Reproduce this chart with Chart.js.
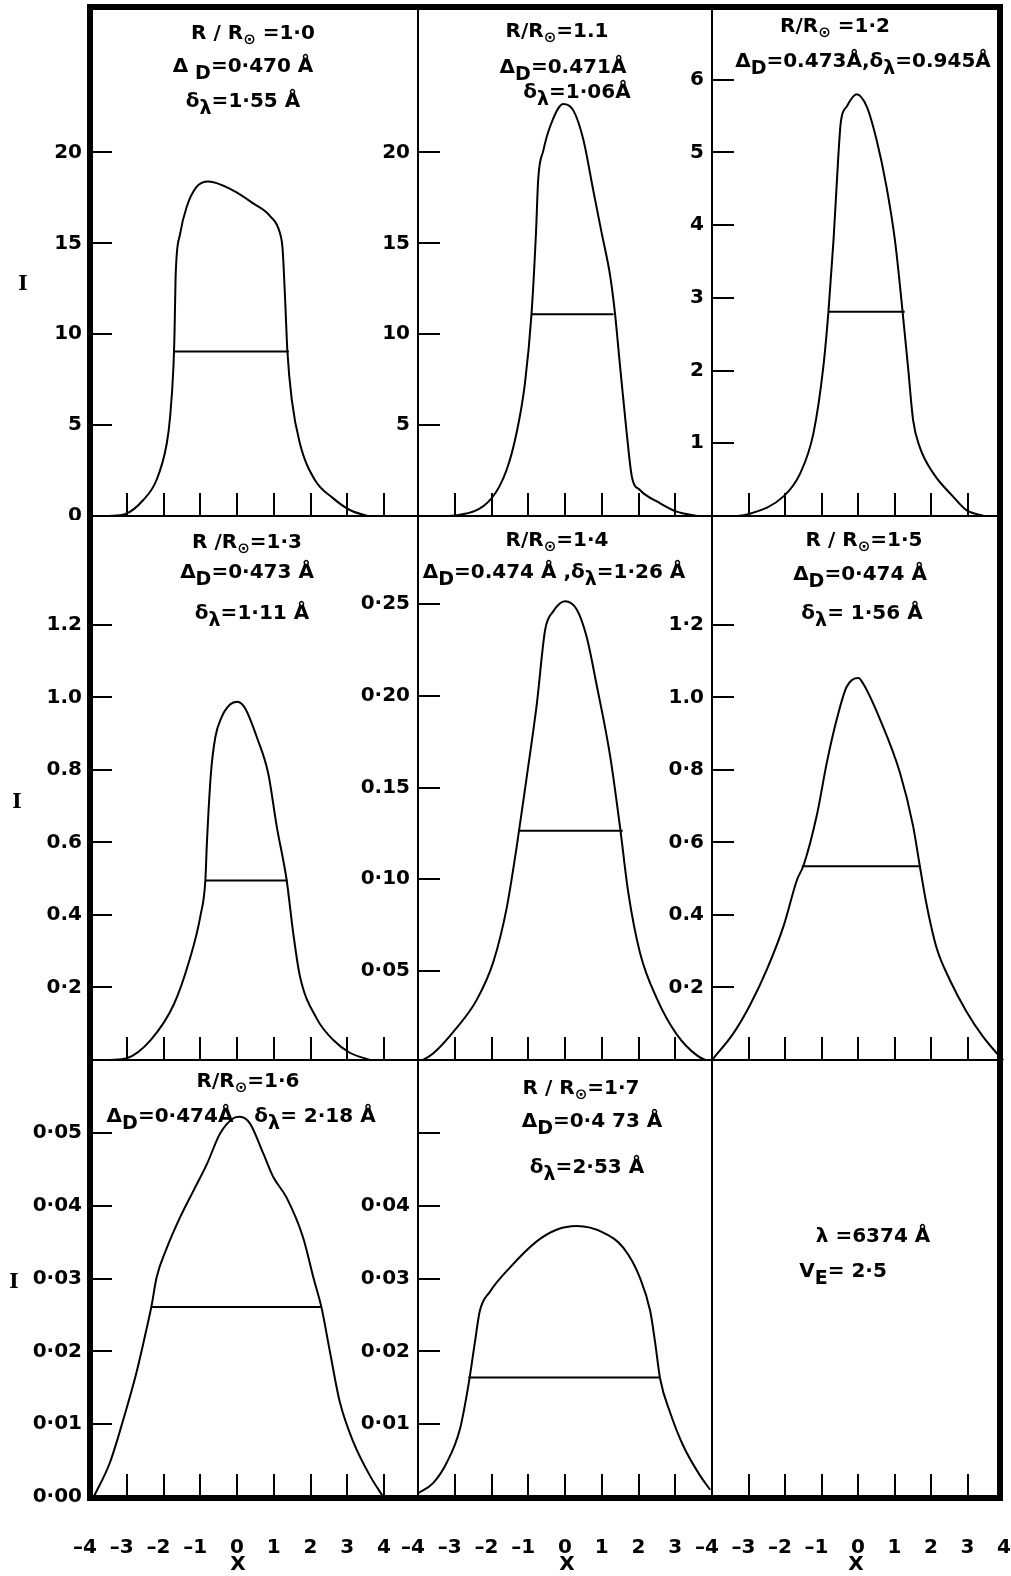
<!DOCTYPE html>
<html><head><meta charset="utf-8">
<script src="https://cdn.jsdelivr.net/npm/chart.js@4.4.1/dist/chart.umd.min.js"></script>
<style>
html,body{margin:0;padding:0;background:#fff;}
#stage{position:relative;width:1011px;height:1576px;overflow:hidden;background:#fff;}
#stage canvas{position:absolute;}
.ln{position:absolute;background:#000;}
.t{position:absolute;font-family:'DejaVu Sans',sans-serif;font-weight:bold;font-size:20px;line-height:22px;white-space:nowrap;color:#000;transform:translate(-50%,-50%);}
.t sub{font-size:19px;vertical-align:-0.38em;line-height:0;}
.t sub.o{font-size:15px;vertical-align:-0.3em;}
.ser{font-family:'DejaVu Serif',serif;}
</style></head>
<body><div id="stage"></div>
<script>
// ===== DATA =====
// R/R0 = 1.0
const X_R10 = [-3.5,-3.05,-2.55,-2.19,-1.91,-1.82,-1.73,-1.70,-1.67,-1.55,-1.37,-1.10,-0.78,-0.10,0.44,0.90,1.17,1.24,1.31,1.37,1.49,1.71,2.12,2.62,3.07,3.55];
const I_R10 = [0,0.1,0.88,1.98,4.0,5.46,8.2,10.06,13.2,15.5,17.0,18.1,18.4,17.9,17.2,16.5,15.55,14.7,11.9,9.1,6.4,4.0,1.98,0.97,0.33,0];
const HALF_X_R10 = [-1.71,1.41]; const HALF_I_R10 = 9.05;
// R/R0 = 1.1
const X_R11 = [-3.3,-2.95,-2.0,-1.59,-1.32,-1.09,-0.91,-0.79,-0.73,-0.59,-0.41,-0.05,0.23,0.5,0.77,1.0,1.23,1.36,1.5,1.68,1.82,2.04,2.59,3.04,3.6];
const I_R11 = [0,0.04,0.97,2.53,4.55,7.3,11.15,15.55,18.5,20.1,21.4,22.66,22.3,20.7,17.9,15.55,13.2,11.15,8.2,4.55,2.16,1.43,0.7,0.24,0];
const HALF_X_R11 = [-0.91,1.32]; const HALF_I_R11 = 11.1;
// R/R0 = 1.2
const X_R12 = [-3.35,-3.04,-2.04,-1.58,-1.22,-0.95,-0.81,-0.67,-0.54,-0.47,-0.31,-0.04,0.24,0.51,0.78,1.01,1.19,1.37,1.51,1.69,2.06,2.6,2.97,3.45];
const I_R12 = [0,0.02,0.27,0.59,1.14,2.05,2.81,3.8,4.94,5.42,5.63,5.8,5.63,5.17,4.53,3.8,2.97,2.05,1.32,0.95,0.59,0.27,0.08,0];
const HALF_X_R12 = [-0.81,1.28]; const HALF_I_R12 = 2.81;
// R/R0 = 1.3
const X_R13 = [-3.46,-3.0,-2.35,-1.72,-1.31,-0.99,-0.86,-0.82,-0.71,-0.59,-0.42,-0.19,0.01,0.22,0.54,0.85,1.08,1.35,1.53,1.71,2.17,2.62,3.07,3.62];
const I_R13 = [0,0.005,0.055,0.153,0.27,0.4,0.497,0.596,0.79,0.89,0.945,0.98,0.988,0.97,0.89,0.79,0.645,0.497,0.35,0.232,0.114,0.055,0.02,0];
const HALF_X_R13 = [-0.87,1.37]; const HALF_I_R13 = 0.495;
// R/R0 = 1.4
const X_R14 = [-4.0,-3.59,-2.95,-2.41,-1.95,-1.59,-1.32,-1.04,-0.77,-0.54,-0.32,0.0,0.32,0.59,0.86,1.23,1.5,1.72,2.04,2.5,3.04,3.59,4.0];
const I_R14 = [0,0.005,0.019,0.034,0.055,0.084,0.117,0.156,0.195,0.236,0.246,0.2515,0.247,0.232,0.206,0.167,0.128,0.093,0.06,0.035,0.0155,0.004,0];
const HALF_X_R14 = [-1.24,1.57]; const HALF_I_R14 = 0.1265;
// R/R0 = 1.5
const X_R15 = [-4.0,-3.41,-2.95,-2.49,-2.04,-1.67,-1.49,-1.13,-0.85,-0.58,-0.31,0.01,0.14,0.6,1.15,1.51,1.69,1.88,2.15,2.51,2.97,3.42,3.79,3.98];
const I_R15 = [0,0.074,0.153,0.251,0.369,0.497,0.537,0.674,0.822,0.94,1.029,1.053,1.038,0.94,0.792,0.645,0.537,0.428,0.31,0.222,0.134,0.065,0.02,0];
const HALF_X_R15 = [-1.54,1.71]; const HALF_I_R15 = 0.534;
// R/R0 = 1.6
const X_R16 = [-3.9,-3.46,-3.09,-2.73,-2.46,-2.32,-2.19,-1.91,-1.55,-1.19,-0.82,-0.46,-0.1,0.08,0.35,0.72,0.99,1.35,1.8,2.08,2.3,2.53,2.8,3.17,3.62,3.98];
const I_R16 = [0,0.0047,0.0107,0.0172,0.0231,0.0264,0.0301,0.0342,0.0384,0.042,0.0457,0.0499,0.052,0.0522,0.0513,0.0471,0.0439,0.0411,0.0356,0.0301,0.026,0.0199,0.013,0.0075,0.0029,0];
const HALF_X_R16 = [-2.32,2.3]; const HALF_I_R16 = 0.0261;
// R/R0 = 1.7
const X_R17 = [-4.0,-3.59,-3.22,-2.86,-2.63,-2.45,-2.32,-2.04,-1.5,-0.77,-0.23,0.32,1.04,1.59,2.04,2.32,2.45,2.59,2.86,3.22,3.68,3.95];
const I_R17 = [0.0005,0.0019,0.0047,0.0093,0.0153,0.0213,0.0255,0.0282,0.0315,0.0351,0.0367,0.0372,0.0363,0.0342,0.0301,0.0255,0.0213,0.0162,0.0116,0.007,0.0029,0.001];
const HALF_X_R17 = [-2.63,2.57]; const HALF_I_R17 = 0.0164;

// tick values and labels
const XTICKS = [-4,-3,-2,-1,0,1,2,3,4];
const XLAB_FULL = ['–4\u2002','–3\u2002','–2\u2002','–1\u2002','0','1','2','3','4'];
const XLAB_MID  = ['–4\u2002','–3\u2002','–2\u2002','–1\u2002','0','1','2','3',''];
const XMARK_C1 = [-3,-2,-1,0,1,2,3,4];
const XMARK = [-3,-2,-1,0,1,2,3];
const YT_R10 = [0,5,10,15,20];   const YL_R10 = ['0','5','10','15','20'];
const YT_R11 = [5,10,15,20];     const YL_R11 = ['5','10','15','20'];
const YT_R12 = [1,2,3,4,5,6];    const YL_R12 = ['1','2','3','4','5','6'];
const YT_R13 = [0.2,0.4,0.6,0.8,1.0,1.2]; const YL_R13 = ['0·2','0.4','0.6','0.8','1.0','1.2'];
const YT_R14 = [0.05,0.10,0.15,0.20,0.25]; const YL_R14 = ['0·05','0·10','0.15','0·20','0·25'];
const YT_R15 = [0.2,0.4,0.6,0.8,1.0,1.2]; const YL_R15 = ['0·2','0.4','0·6','0·8','1.0','1·2'];
const YT_R16 = [0,0.01,0.02,0.03,0.04,0.05]; const YL_R16 = ['0·00','0·01','0·02','0·03','0·04','0·05'];
const YT_R17 = [0.01,0.02,0.03,0.04,0.05]; const YL_R17 = ['0·01','0·02','0·03','0·04',''];

// ===== LAYOUT =====
const FONT = "'DejaVu Sans', sans-serif";
const COLS = [{x0:90,x1:384},{x0:418,x1:712},{x0:712,x1:1004}];
const ROWS = [{y0:7,y1:516},{y0:516,y1:1060},{y0:1060,y1:1497}];
const L = 80, T = 20, R = 20;
const stage = document.getElementById('stage');

const inTicks = {
  id:'inTicks',
  afterDraw(chart, args, opts){
    const {ctx, chartArea, scales} = chart;
    ctx.save(); ctx.strokeStyle='#000'; ctx.lineWidth=2;
    (opts.y||[]).forEach(v=>{
      const py = Math.round(scales.y.getPixelForValue(v));
      ctx.beginPath(); ctx.moveTo(chartArea.left, py); ctx.lineTo(chartArea.left+22, py); ctx.stroke();
    });
    (opts.x||[]).forEach(v=>{
      const px = Math.round(scales.x.getPixelForValue(v));
      ctx.beginPath(); ctx.moveTo(px, chartArea.bottom); ctx.lineTo(px, chartArea.bottom-23); ctx.stroke();
    });
    ctx.restore();
  }
};

function makePanel(p){
  const c = COLS[p.col], r = ROWS[p.row];
  const bottomRow = p.row === 2;
  const B = bottomRow ? 76 : 4;
  const w = c.x1 - c.x0, h = r.y1 - r.y0;
  const cv = document.createElement('canvas');
  cv.width = L + w + R; cv.height = T + h + B;
  cv.style.left = (c.x0 - L) + 'px'; cv.style.top = (r.y0 - T) + 'px';
  stage.appendChild(cv);
  const datasets = [];
  if (p.xs) {
    datasets.push({data:p.xs.map((x,i)=>({x:x, y:p.ys[i]})), borderColor:'#000', borderWidth:2, pointRadius:0, cubicInterpolationMode:'monotone', fill:false});
    datasets.push({data:p.hx.map(x=>({x:x, y:p.hy})), borderColor:'#000', borderWidth:2, pointRadius:0, tension:0, fill:false});
  }
  new Chart(cv, {
    type:'line',
    data:{datasets:datasets},
    options:{
      responsive:false, animation:false, devicePixelRatio:1,
      layout:{padding:{left:0, top:T, right:R, bottom:0}, autoPadding:false},
      plugins:{legend:{display:false}, tooltip:{enabled:false}, inTicks:{x:p.xmarks, y:p.ymarks}},
      scales:{
        x:{type:'linear', min:-4, max:4,
           grid:{display:false, drawTicks:false}, border:{display:false},
           afterBuildTicks:s=>{ s.ticks = XTICKS.map(v=>({value:v})); },
           ticks:{display:bottomRow, autoSkip:false, maxRotation:0, minRotation:0, padding:39,
                  font:{family:FONT, size:20, weight:'bold'}, color:'#000',
                  callback:(v,i)=> p.xlab ? p.xlab[i] : ''},
           afterFit:s=>{ s.height = B; s.paddingLeft = 0; s.paddingRight = 0; }},
        y:{type:'linear', min:p.ymin, max:p.ymax,
           grid:{display:false, drawTicks:false}, border:{display:false},
           afterBuildTicks:s=>{ s.ticks = p.ytv.map(v=>({value:v})); },
           ticks:{display:p.ytl.length>0, autoSkip:false, padding:8,
                  font:{family:FONT, size:20, weight:'bold'}, color:'#000',
                  callback:(v,i)=> p.ytl[i] !== undefined ? p.ytl[i] : ''},
           afterFit:s=>{ s.width = L; s.paddingTop = 0; s.paddingBottom = 0; }}
      }
    },
    plugins:[inTicks]
  });
}

const PANELS = [
  {col:0,row:0, xs:X_R10, ys:I_R10, hx:HALF_X_R10, hy:HALF_I_R10, ymin:0, ymax:28, ytv:YT_R10, ytl:YL_R10, ymarks:YT_R10, xmarks:XMARK_C1},
  {col:1,row:0, xs:X_R11, ys:I_R11, hx:HALF_X_R11, hy:HALF_I_R11, ymin:0, ymax:28, ytv:YT_R11, ytl:YL_R11, ymarks:YT_R11, xmarks:XMARK},
  {col:2,row:0, xs:X_R12, ys:I_R12, hx:HALF_X_R12, hy:HALF_I_R12, ymin:0, ymax:7, ytv:YT_R12, ytl:YL_R12, ymarks:YT_R12, xmarks:XMARK},
  {col:0,row:1, xs:X_R13, ys:I_R13, hx:HALF_X_R13, hy:HALF_I_R13, ymin:0, ymax:1.5, ytv:YT_R13, ytl:YL_R13, ymarks:YT_R13, xmarks:XMARK_C1},
  {col:1,row:1, xs:X_R14, ys:I_R14, hx:HALF_X_R14, hy:HALF_I_R14, ymin:0.0015, ymax:0.298, ytv:YT_R14, ytl:YL_R14, ymarks:YT_R14, xmarks:XMARK},
  {col:2,row:1, xs:X_R15, ys:I_R15, hx:HALF_X_R15, hy:HALF_I_R15, ymin:0, ymax:1.5, ytv:YT_R15, ytl:YL_R15, ymarks:YT_R15, xmarks:XMARK},
  {col:0,row:2, xs:X_R16, ys:I_R16, hx:HALF_X_R16, hy:HALF_I_R16, ymin:0, ymax:0.06, ytv:YT_R16, ytl:YL_R16, ymarks:YT_R16, xmarks:XMARK_C1, xlab:XLAB_FULL},
  {col:1,row:2, xs:X_R17, ys:I_R17, hx:HALF_X_R17, hy:HALF_I_R17, ymin:0, ymax:0.06, ytv:YT_R17, ytl:YL_R17, ymarks:YT_R17, xmarks:XMARK, xlab:XLAB_MID},
  {col:2,row:2, xs:null, ymin:0, ymax:0.06, ytv:[0], ytl:[], ymarks:[], xmarks:XMARK, xlab:XLAB_FULL}
];
PANELS.forEach(makePanel);

// frame
function line(x,y,w,h){ const d=document.createElement('div'); d.className='ln'; d.style.left=x+'px'; d.style.top=y+'px'; d.style.width=w+'px'; d.style.height=h+'px'; stage.appendChild(d); }
line(87,4,916,6); line(87,1495,916,6); line(87,4,6,1497); line(997,4,6,1497);
line(417,7,2,1490); line(711,7,2,1490);
line(90,515,910,2); line(90,1059,910,2);

// text
function txt(x,y,html,cls){ const d=document.createElement('div'); d.className='t'+(cls?' '+cls:''); d.style.left=x+'px'; d.style.top=y+'px'; d.innerHTML=html; stage.appendChild(d); }
const S='<sub class="o">⊙</sub>';
txt(253,32,'R / R'+S+' =1·0'); txt(243,65,'Δ <sub>D</sub>=0·470 Å'); txt(243,100,'δ<sub>λ</sub>=1·55 Å');
txt(557,30,'R/R'+S+'=1.1'); txt(563,66,'Δ<sub>D</sub>=0.471Å'); txt(577,91,'δ<sub>λ</sub>=1·06Å');
txt(835,25,'R/R'+S+' =1·2'); txt(863,60,'Δ<sub>D</sub>=0.473Å,δ<sub>λ</sub>=0.945Å');
txt(247,541,'R /R'+S+'=1·3'); txt(247,571,'Δ<sub>D</sub>=0·473 Å'); txt(252,612,'δ<sub>λ</sub>=1·11 Å');
txt(557,539,'R/R'+S+'=1·4'); txt(554,571,'Δ<sub>D</sub>=0.474 Å ,δ<sub>λ</sub>=1·26 Å');
txt(864,539,'R / R'+S+'=1·5'); txt(860,573,'Δ<sub>D</sub>=0·474 Å'); txt(862,612,'δ<sub>λ</sub>= 1·56 Å');
txt(248,1080,'R/R'+S+'=1·6'); txt(170,1115,'Δ<sub>D</sub>=0·474Å'); txt(315,1115,'δ<sub>λ</sub>= 2·18 Å');
txt(581,1087,'R / R'+S+'=1·7'); txt(592,1120,'Δ<sub>D</sub>=0·4 73 Å'); txt(587,1166,'δ<sub>λ</sub>=2·53 Å');
txt(873,1235,'λ =6374 Å'); txt(843,1270,'V<sub>E</sub>= 2·5');
txt(23,283,'I','ser'); txt(17,801,'I','ser'); txt(14,1281,'I','ser');
txt(238,1563,'X'); txt(567,1563,'X'); txt(856,1563,'X');
</script>
</body></html>
